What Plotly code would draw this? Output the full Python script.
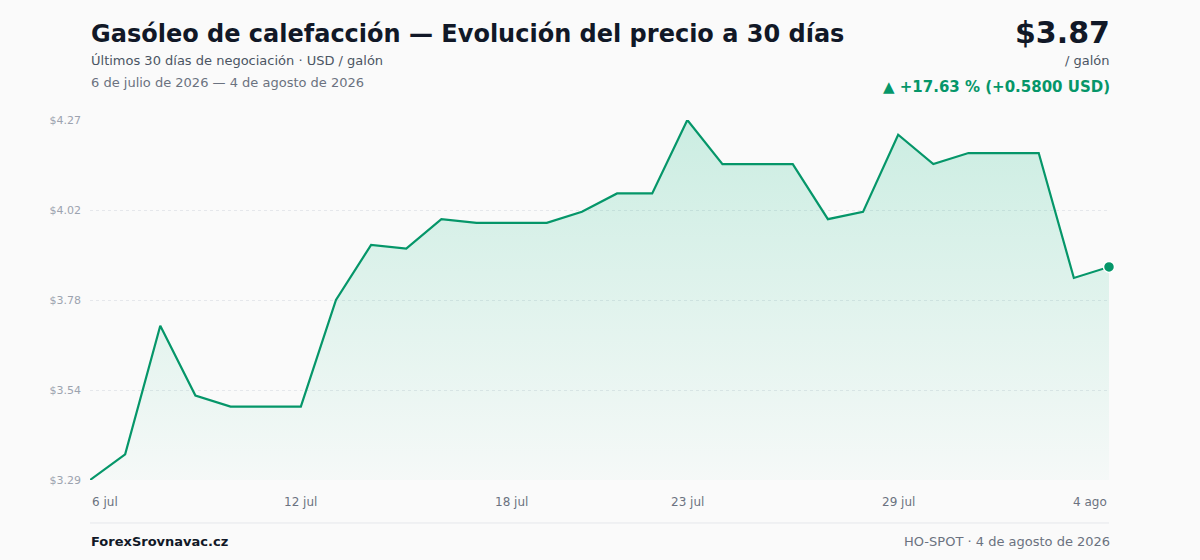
import plotly.graph_objects as go
import pandas as pd

dates = pd.date_range("2026-07-06", "2026-08-04", freq="D")
prices = [3.29, 3.36, 3.71, 3.52, 3.49, 3.49, 3.49, 3.78, 3.93, 3.92,
          4.00, 3.99, 3.99, 3.99, 4.02, 4.07, 4.07, 4.27, 4.15, 4.15,
          4.15, 4.00, 4.02, 4.23, 4.15, 4.18, 4.18, 4.18, 3.84, 3.87]
x_tick_dates = ["2026-07-06", "2026-07-12", "2026-07-18", "2026-07-23", "2026-07-29", "2026-08-04"]
x_tick_labels = ["6 jul", "12 jul", "18 jul", "23 jul", "29 jul", "4 ago"]
y_tick_vals = [3.29, 3.535, 3.78, 4.025, 4.27]
y_tick_labels = ["$3.29", "$3.54", "$3.78", "$4.02", "$4.27"]

GREEN = "#059669"
FONT = "DejaVu Sans"
ymin, ymax = min(prices), max(prices)

fig = go.Figure()
fig.add_trace(go.Scatter(
    x=dates, y=prices, mode="lines",
    line=dict(color=GREEN, width=2.2),
    fill="tozeroy",
    fillgradient=dict(type="vertical",
                      colorscale=[[0, "rgba(16,185,129,0.02)"], [1, "rgba(16,185,129,0.20)"]],
                      start=ymin, stop=ymax),
    hoverinfo="skip", showlegend=False,
))
fig.add_trace(go.Scatter(
    x=[dates[-1]], y=[prices[-1]], mode="markers",
    marker=dict(color=GREEN, size=11, line=dict(color="white", width=1.5)),
    hoverinfo="skip", showlegend=False, cliponaxis=False,
))

fig.update_layout(
    width=1200, height=560,
    margin=dict(l=90, r=91, t=120, b=80),
    paper_bgcolor="#fafafa", plot_bgcolor="#fafafa",
    font=dict(family=FONT, color="#6b7280"),
    xaxis=dict(range=[dates[0], dates[-1]], showgrid=False, zeroline=False,
               showticklabels=False, showline=False, fixedrange=True),
    yaxis=dict(range=[ymin, ymax], tickvals=y_tick_vals, ticktext=y_tick_labels,
               showgrid=True, gridcolor="#e5e7eb", griddash="dot", gridwidth=1,
               zeroline=False, showline=False, ticks="",
               tickfont=dict(size=11, color="#9ca3af"), ticklabelstandoff=8),
)

annotations = []
for i, (d, lab) in enumerate(zip(x_tick_dates, x_tick_labels)):
    anchor = "left" if i == 0 else ("right" if i == len(x_tick_dates) - 1 else "center")
    annotations.append(dict(x=d, y=-0.06, xref="x", yref="paper", text=lab,
                            showarrow=False, xanchor=anchor, yanchor="middle",
                            font=dict(size=12, color="#6b7280")))

header = [
    dict(x=89, y=34, text="<b>Gasóleo de calefacción — Evolución del precio a 30 días</b>",
         xanchor="left", font=dict(size=24, color="#111827")),
    dict(x=89, y=61, text="Últimos 30 días de negociación · USD / galón",
         xanchor="left", font=dict(size=13, color="#4b5563")),
    dict(x=89, y=83, text="6 de julio de 2026 — 4 de agosto de 2026",
         xanchor="left", font=dict(size=13, color="#6b7280")),
    dict(x=1112, y=32, text="<b>$3.87</b>",
         xanchor="right", font=dict(size=30, color="#111827")),
    dict(x=1112, y=61, text="/ galón",
         xanchor="right", font=dict(size=13, color="#4b5563")),
    dict(x=1112, y=87, text="<b>▲ +17.63 % (+0.5800 USD)</b>",
         xanchor="right", font=dict(size=15, color=GREEN)),
    dict(x=89, y=541, text="<b>ForexSrovnavac.cz</b>",
         xanchor="left", font=dict(size=13, color="#111827")),
    dict(x=1112, y=541, text="HO-SPOT · 4 de agosto de 2026",
         xanchor="right", font=dict(size=13, color="#6b7280")),
]
pw, ph = 1200 - 90 - 91, 560 - 120 - 80
for a in header:
    px, py = a["x"], a["y"]
    a.update(xref="paper", yref="paper", showarrow=False, yanchor="middle",
             x=(px - 90) / pw, y=(560 - 80 - py) / ph)
annotations += header
fig.update_layout(annotations=annotations)

fig.add_shape(type="line", xref="paper", yref="paper",
              x0=0, x1=1, y0=(560 - 80 - 523) / ph, y1=(560 - 80 - 523) / ph,
              line=dict(color="#e5e7eb", width=1))

html = fig.to_html(full_html=True, include_plotlyjs=True, config={"displayModeBar": False})
html = html.replace("<head>", "<head><style>html,body{margin:0;padding:0;background:#fafafa;}</style>", 1)
with open("out.html", "w", encoding="utf-8") as f:
    f.write(html)
